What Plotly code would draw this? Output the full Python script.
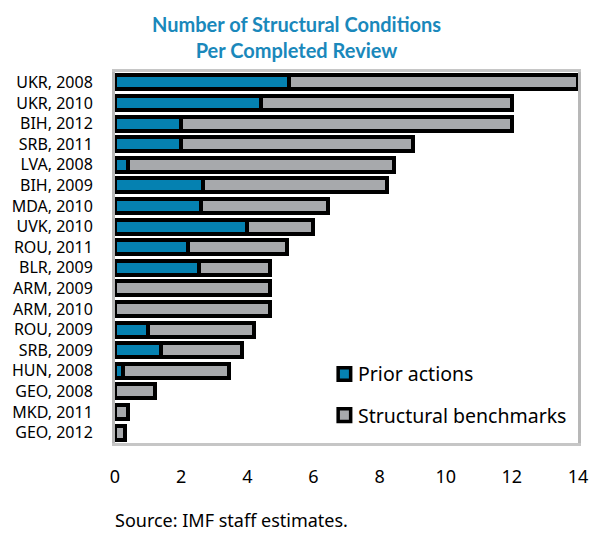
import plotly.graph_objects as go

labels = ["UKR, 2008", "UKR, 2010", "BIH, 2012", "SRB, 2011", "LVA, 2008", "BIH, 2009",
          "MDA, 2010", "UVK, 2010", "ROU, 2011", "BLR, 2009", "ARM, 2009", "ARM, 2010",
          "ROU, 2009", "SRB, 2009", "HUN, 2008", "GEO, 2008", "MKD, 2011", "GEO, 2012"]
prior_actions = [5.25, 4.4, 2.0, 2.0, 0.4, 2.67, 2.6, 4.0, 2.2, 2.55, 0, 0,
                 1.0, 1.4, 0.25, 0, 0, 0]
structural_benchmarks = [8.75, 7.6, 10.0, 7.0, 8.05, 5.55, 3.85, 2.0, 3.0, 2.15, 4.7, 4.7,
                         3.2, 2.45, 3.2, 1.2, 0.4, 0.3]
x_ticks = [0, 2, 4, 6, 8, 10, 12, 14]

BLUE = "#0581b1"
GRAY = "#a7a9ac"
FONT = "Noto Sans"

fig = go.Figure()
fig.add_trace(go.Bar(
    y=labels, x=prior_actions, orientation="h", name="Prior actions",
    width=0.68, showlegend=False,
    marker=dict(color=BLUE, line=dict(color="black", width=4)),
))
fig.add_trace(go.Bar(
    y=labels, x=structural_benchmarks, orientation="h", name="Structural benchmarks",
    width=0.68, showlegend=False,
    marker=dict(color=GRAY, line=dict(color="black", width=4)),
))

# hand-made legend inside the plot (keeps plotly from pushing the margins)
legend_items = [("Prior actions", BLUE, 0.186), ("Structural benchmarks", GRAY, 0.075)]
for name, color, yc in legend_items:
    fig.add_shape(
        type="rect", xref="paper", yref="paper",
        x0=0.482, x1=0.509, y0=yc - 0.017, y1=yc + 0.017,
        fillcolor=color, line=dict(color="black", width=3.5),
    )
    fig.add_annotation(
        text=name, xref="paper", yref="paper", x=0.521, y=yc,
        xanchor="left", yanchor="middle", showarrow=False,
        font=dict(size=19.5),
    )

fig.update_layout(
    width=593, height=533,
    barmode="stack",
    margin=dict(l=115, r=15, t=72, b=90),
    plot_bgcolor="white",
    paper_bgcolor="white",
    font=dict(family=FONT, color="black"),
    showlegend=False,
    xaxis=dict(
        range=[0, 14], tickvals=x_ticks, showgrid=False, zeroline=False,
        showline=True, mirror=True, linecolor="#c6c6c6", linewidth=3,
        ticks="outside", ticklen=15, tickcolor="rgba(0,0,0,0)",
        tickfont=dict(size=18), automargin=False,
    ),
    yaxis=dict(
        autorange="reversed", showgrid=False, zeroline=False,
        showline=True, mirror=True, linecolor="#b8b8b8", linewidth=3,
        ticks="outside", ticklen=16, tickcolor="rgba(0,0,0,0)",
        tickfont=dict(size=16), automargin=False,
    ),
)
fig.add_annotation(
    text="<b>Number of Structural Conditions<br>Per Completed Review</b>",
    xref="paper", yref="paper", x=0.393, y=1, yshift=8,
    xanchor="center", yanchor="bottom", showarrow=False,
    font=dict(family="Lato", size=20, color="#1a88bb"),
)
fig.add_annotation(
    text="Source: IMF staff estimates.", xref="paper", yref="paper",
    x=-0.005, y=-0.207, xanchor="left", yanchor="middle", showarrow=False,
    font=dict(size=18),
)

fig.write_html("out.html", config={"displayModeBar": False},
               post_script="document.body.style.margin = '0';")
